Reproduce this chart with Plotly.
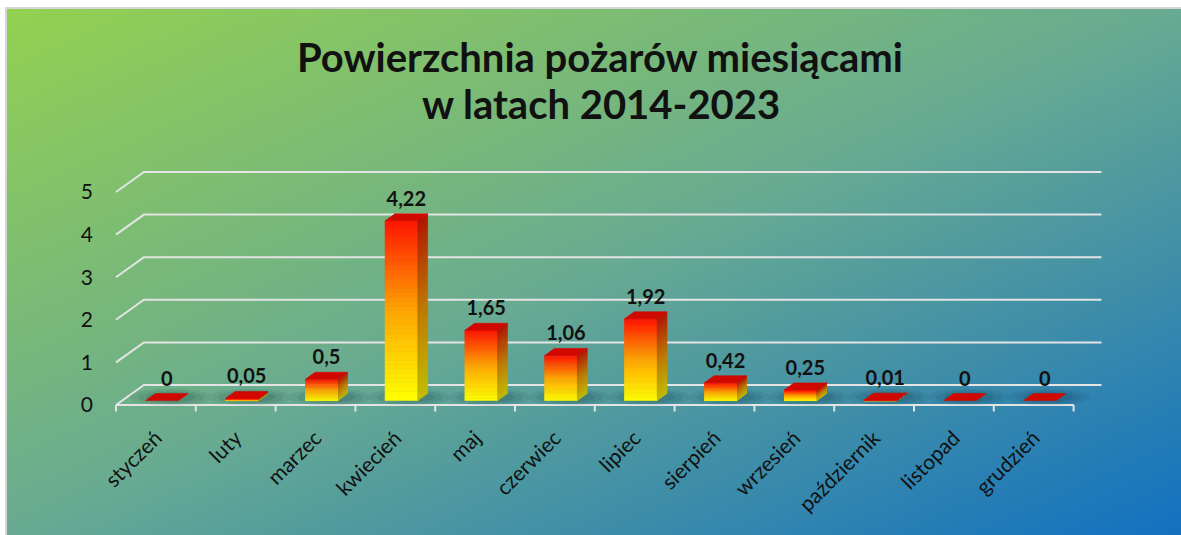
import base64
import numpy as np
import plotly.graph_objects as go

# ---------------- data ----------------
months = ["styczeń", "luty", "marzec", "kwiecień", "maj", "czerwiec", "lipiec",
          "sierpień", "wrzesień", "październik", "listopad", "grudzień"]
values = [0, 0.05, 0.5, 4.22, 1.65, 1.06, 1.92, 0.42, 0.25, 0.01, 0, 0]
value_labels = ["0", "0,05", "0,5", "4,22", "1,65", "1,06", "1,92", "0,42", "0,25", "0,01", "0", "0"]
y_ticks = [0, 1, 2, 3, 4, 5]
title_lines = ["Powierzchnia pożarów miesiącami", "w latach 2014-2023"]

# ---------------- geometry (pseudo 3D) ----------------
W, H = 1181, 535
DX = 0.35      # depth offset along x (category units)
DY = 0.47      # depth offset along y (value units)
F0, F1 = 0.22, 0.57   # bar depth (front/back fraction)
BW = 0.41      # bar width (category units)
NCAT = len(months)
FONT = "Lato"


def P(x, v, f):
    return x + DX * f, v - DY * (1 - f)


def interp(stops, t):
    for (t0, c0), (t1, c1) in zip(stops[:-1], stops[1:]):
        if t <= t1:
            u = (t - t0) / (t1 - t0) if t1 > t0 else 0
            c = [int(round(a + (b - a) * u)) for a, b in zip(c0, c1)]
            return "rgb(%d,%d,%d)" % tuple(c)
    c = stops[-1][1]
    return "rgb(%d,%d,%d)" % tuple(c)


front_stops = [(0, (255, 255, 0)), (0.5, (255, 165, 0)), (1, (255, 20, 0))]
side_stops = [(0, (196, 190, 0)), (0.5, (190, 120, 0)), (1, (176, 20, 0))]
top_color = "rgb(208,8,0)"
grid_color = "rgb(228,228,228)"

fig = go.Figure()

# back wall gridlines + left diagonal segments
gx, gy = [], []
for k in y_ticks:
    x0, y0 = P(0, k, 1)
    x1, y1 = P(NCAT, k, 1)
    xf, yf = P(0, k, 0)
    gx += [xf, x0, x1, None]
    gy += [yf, y0, y1, None]
# floor front edge
xa, ya = P(0, 0, 0)
xb, yb = P(NCAT, 0, 0)
gx += [xa, xb, None]
gy += [ya, yb, None]
# tick marks at category boundaries
for i in range(NCAT + 1):
    xt, yt = P(i, 0, 0)
    gx += [xt, xt, None]
    gy += [yt, yt - 0.15, None]
fig.add_trace(go.Scatter(x=gx, y=gy, mode="lines", line=dict(color=grid_color, width=2),
                         hoverinfo="skip"))

# soft shadows on the floor
fm = (F0 + F1) / 2
th = np.linspace(0, 2 * np.pi, 40)
for scale, alpha in [(1.0, 0.08), (0.8, 0.09), (0.6, 0.12)]:
    sx, sy = [], []
    for i, v in enumerate(values):
        cx, cy = P(i + 0.5, 0, fm)
        sx += list(cx + 0.05 + 0.52 * scale * np.cos(th)) + [None]
        sy += list(cy + 0.2 * scale * np.sin(th)) + [None]
    fig.add_trace(go.Scatter(x=sx, y=sy, mode="lines", fill="toself",
                             fillcolor="rgba(10,40,60,%.2f)" % alpha,
                             line=dict(width=0), hoverinfo="skip"))

# front faces (gradient)
N = 40
for k in range(N):
    fx, fy = [], []
    for i, v in enumerate(values):
        if v <= 0:
            continue
        xl, xr = i + 0.5 - BW / 2, i + 0.5 + BW / 2
        lo, hi = v * k / N, v * (k + 1) / N
        pts = [P(xl, lo, F0), P(xr, lo, F0), P(xr, hi, F0), P(xl, hi, F0), P(xl, lo, F0)]
        fx += [p[0] for p in pts] + [None]
        fy += [p[1] for p in pts] + [None]
    col = interp(front_stops, (k + 0.5) / N)
    fig.add_trace(go.Scatter(x=fx, y=fy, mode="lines", fill="toself", fillcolor=col,
                             line=dict(color=col, width=0.6), hoverinfo="skip"))

# side faces (gradient)
for k in range(N):
    fx, fy = [], []
    for i, v in enumerate(values):
        if v <= 0:
            continue
        xr = i + 0.5 + BW / 2
        lo, hi = v * k / N, v * (k + 1) / N
        pts = [P(xr, lo, F0), P(xr, lo, F1), P(xr, hi, F1), P(xr, hi, F0), P(xr, lo, F0)]
        fx += [p[0] for p in pts] + [None]
        fy += [p[1] for p in pts] + [None]
    col = interp(side_stops, (k + 0.5) / N)
    fig.add_trace(go.Scatter(x=fx, y=fy, mode="lines", fill="toself", fillcolor=col,
                             line=dict(color=col, width=0.6), hoverinfo="skip"))

# top faces
tx, ty = [], []
for i, v in enumerate(values):
    xl, xr = i + 0.5 - BW / 2, i + 0.5 + BW / 2
    pts = [P(xl, v, F0), P(xr, v, F0), P(xr, v, F1), P(xl, v, F1), P(xl, v, F0)]
    tx += [p[0] for p in pts] + [None]
    ty += [p[1] for p in pts] + [None]
fig.add_trace(go.Scatter(x=tx, y=ty, mode="lines", fill="toself", fillcolor=top_color,
                         line=dict(color=top_color, width=0.6), hoverinfo="skip"))

# value labels
lx = [P(i + 0.5, v, F1)[0] - DX * (F1 - F0) / 2 for i, v in enumerate(values)]
ly = [P(i + 0.5, v, F1)[1] + 0.07 for i, v in enumerate(values)]
fig.add_trace(go.Scatter(x=lx, y=ly, mode="text", text=value_labels, textposition="top center",
                         textfont=dict(family=FONT, size=20, color="#111111", weight="bold"),
                         cliponaxis=False, hoverinfo="skip"))

# ---------------- background (gradient panel) ----------------
svg = """<svg xmlns="http://www.w3.org/2000/svg" width="1181" height="535" viewBox="0 0 1181 535" preserveAspectRatio="none">
<defs><linearGradient id="g" x1="0" y1="0" x2="1" y2="1">
<stop offset="0" stop-color="#93d150"/>
<stop offset="0.5" stop-color="#68aa92"/>
<stop offset="1" stop-color="#1270c0"/>
</linearGradient></defs>
<rect x="0" y="0" width="1181" height="535" fill="#ffffff"/>
<rect x="5" y="7" width="1176" height="528" fill="#d6d6d6"/>
<rect x="7" y="9" width="1174" height="526" fill="url(#g)"/>
</svg>"""
src = "data:image/svg+xml;base64," + base64.b64encode(svg.encode("utf-8")).decode("ascii")

# pixel-based layout of the plotting area
PX_Y = 42.6
y_front0 = 405.0
y_lo, y_hi = -0.65, 5.05
py_lo = y_front0 - (y_lo + DY) * PX_Y
py_hi = y_front0 - (y_hi + DY) * PX_Y
PX_X = 79.8
x_front0 = 116.0
x_lo, x_hi = -0.05, 12.4
px_lo = x_front0 + x_lo * PX_X
px_hi = x_front0 + x_hi * PX_X

annotations = [
    dict(text="<b>%s</b>" % title_lines[0], x=600 / W, y=1 - 57 / H, xref="paper", yref="paper",
         showarrow=False, xanchor="center", yanchor="middle",
         font=dict(family=FONT, size=40, color="#111111")),
    dict(text="<b>%s</b>" % title_lines[1], x=601 / W, y=1 - 104 / H, xref="paper", yref="paper",
         showarrow=False, xanchor="center", yanchor="middle",
         font=dict(family=FONT, size=40, color="#111111")),
]

fig.update_layout(
    width=W, height=H,
    margin=dict(l=0, r=0, t=0, b=0, autoexpand=False),
    paper_bgcolor="white",
    plot_bgcolor="rgba(0,0,0,0)",
    showlegend=False,
    hovermode=False,
    images=[dict(source=src, xref="paper", yref="paper", x=0, y=1, sizex=1, sizey=1,
                 xanchor="left", yanchor="top", sizing="stretch", layer="below")],
    annotations=annotations,
    xaxis=dict(domain=[px_lo / W, px_hi / W], range=[x_lo, x_hi], showgrid=False,
               zeroline=False, showline=False, ticks="", automargin=False,
               tickvals=[i + 0.5 for i in range(NCAT)], ticktext=months, tickangle=-45,
               tickfont=dict(family=FONT, size=21, color="#111111"), ticklabelstandoff=8,
               fixedrange=True),
    yaxis=dict(domain=[1 - py_lo / H, 1 - py_hi / H], range=[y_lo, y_hi], showgrid=False,
               zeroline=False, showline=False, ticks="", automargin=False,
               tickvals=[k - DY for k in y_ticks], ticktext=[str(k) for k in y_ticks],
               tickfont=dict(family=FONT, size=21, color="#111111"), ticklabelstandoff=18,
               fixedrange=True),
)

fig.write_html(
    "out.html",
    config={"displayModeBar": False},
    post_script="document.body.style.margin='0';document.body.style.overflow='hidden';",
)
